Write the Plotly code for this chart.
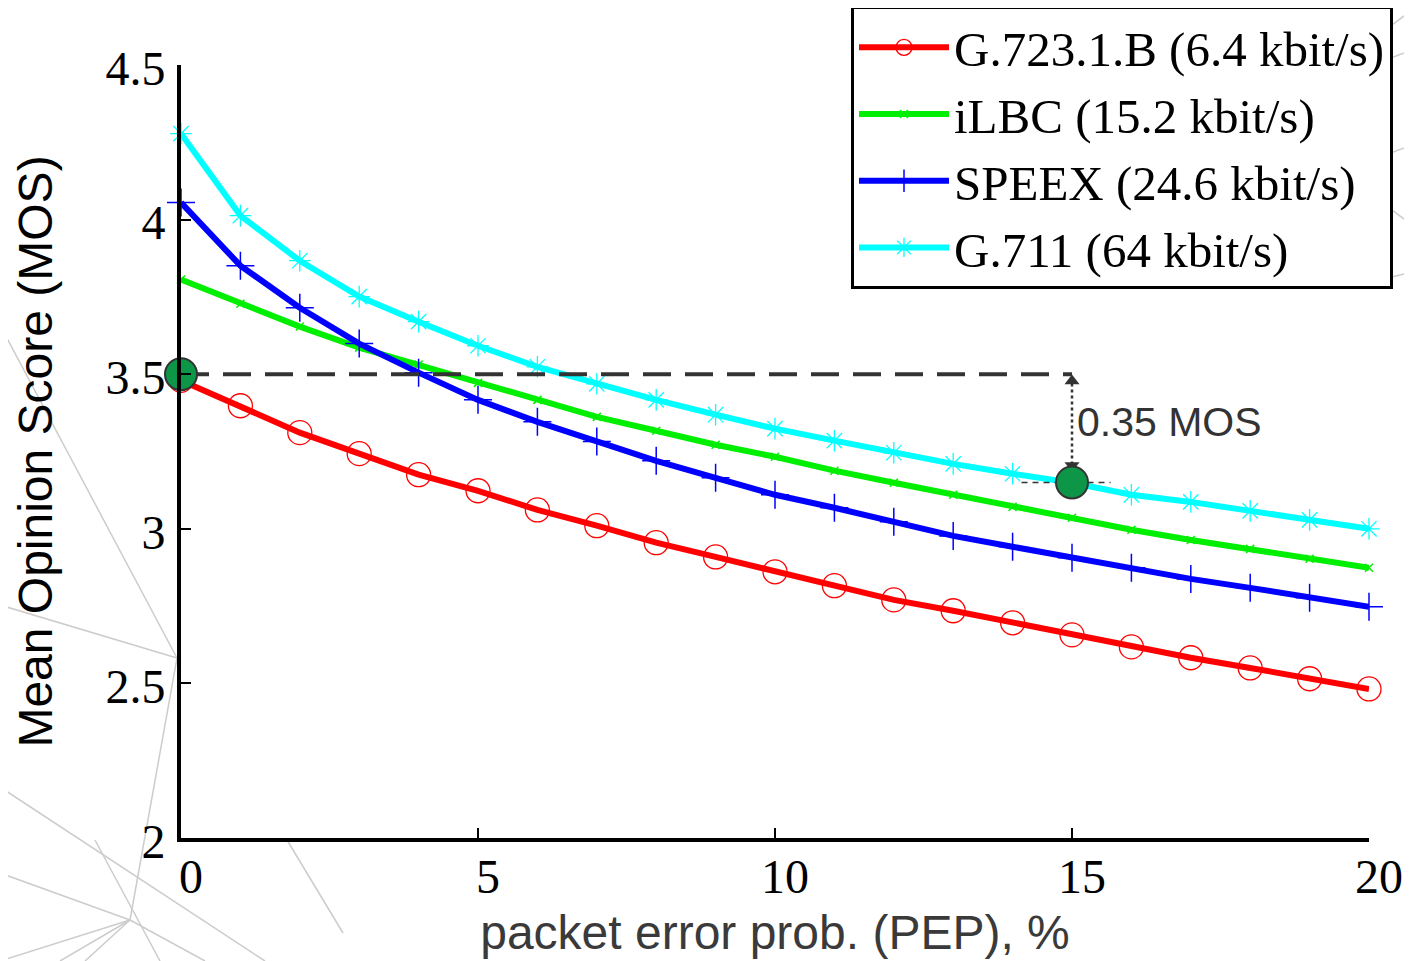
import plotly.graph_objects as go

# ---- data ----
pep = list(range(0, 21))
g7231b = [3.48, 3.398, 3.311, 3.243, 3.175, 3.123, 3.061, 3.010, 2.955, 2.909, 2.861,
          2.816, 2.770, 2.735, 2.696, 2.657, 2.618, 2.583, 2.550, 2.515, 2.482]
ilbc = [3.806, 3.728, 3.654, 3.586, 3.531, 3.472, 3.417, 3.362, 3.317, 3.272, 3.233,
        3.188, 3.149, 3.110, 3.071, 3.036, 2.997, 2.964, 2.935, 2.903, 2.874]
speex = [4.055, 3.851, 3.715, 3.599, 3.505, 3.417, 3.346, 3.282, 3.220, 3.165, 3.110,
         3.068, 3.023, 2.977, 2.942, 2.906, 2.874, 2.838, 2.809, 2.777, 2.748]
g711 = [4.278, 4.013, 3.867, 3.751, 3.670, 3.592, 3.524, 3.469, 3.417, 3.369, 3.324,
        3.285, 3.246, 3.210, 3.178, 3.149, 3.110, 3.087, 3.058, 3.029, 3.000]
names = ["G.723.1.B (6.4 kbit/s)", "iLBC (15.2 kbit/s)", "SPEEX (24.6 kbit/s)", "G.711 (64 kbit/s)"]
x_ticks = [0, 5, 10, 15, 20]
y_ticks = [2, 2.5, 3, 3.5, 4, 4.5]
y_tick_text = ["2", "2.5", "3", "3.5", "4", "4.5"]

# annotation values
ref_level = 3.5
target_pep = 15
target_level = 3.15
delta_text = "0.35 MOS"

OFF = 8  # page body margin
W, H = 1412 - OFF, 961 - OFF
L, T = 181 - OFF, 65 - OFF
PW, PH = 1188, 773
R, B = W - L - PW, H - T - PH

fig = go.Figure()

styles = [
    dict(color="#ff0000", symbol="circle-open", size=24, lw=1.3),
    dict(color="#00ee00", symbol="x-thin", size=8, lw=1.5),
    dict(color="#0000ff", symbol="cross-thin", size=20, lw=1.5),
    dict(color="#00ffff", symbol="asterisk", size=18, lw=1.3),
]
series = [g7231b, ilbc, speex, g711]
for nm, ys, st in zip(names, series, styles):
    fig.add_trace(go.Scatter(
        x=pep, y=ys, name=nm, mode="lines+markers", cliponaxis=False,
        line=dict(color=st["color"], width=6),
        marker=dict(symbol=st["symbol"], size=st["size"], color=st["color"],
                    line=dict(color=st["color"], width=st["lw"])),
    ))

# dashed reference line
fig.add_trace(go.Scatter(x=[0, target_pep], y=[ref_level, ref_level], mode="lines",
                         showlegend=False, cliponaxis=False,
                         line=dict(color="#333333", width=4, dash="28px,14px")))
# short dashed line at target
fig.add_trace(go.Scatter(x=[target_pep - 0.85, target_pep + 0.65], y=[target_level, target_level],
                         mode="lines", showlegend=False,
                         line=dict(color="#333333", width=1.5, dash="6px,5px")))
# dotted vertical
fig.add_trace(go.Scatter(x=[target_pep, target_pep], y=[ref_level - 0.03, target_level + 0.04],
                         mode="lines", showlegend=False,
                         line=dict(color="#333333", width=2.5, dash="dot")))
# arrow heads
fig.add_trace(go.Scatter(x=[target_pep, target_pep], y=[ref_level - 0.022, target_level + 0.055],
                         mode="markers", showlegend=False,
                         marker=dict(symbol=["triangle-up", "triangle-down"], size=13,
                                     color="#333333")))
# green points
fig.add_trace(go.Scatter(x=[0, target_pep], y=[ref_level, target_level], mode="markers",
                         showlegend=False, cliponaxis=False,
                         marker=dict(symbol="circle", size=32, color="#0d9647",
                                     line=dict(color="#333333", width=2))))

fig.add_annotation(x=target_pep, y=(ref_level + target_level) / 2, xref="x", yref="y",
                   text=delta_text, showarrow=False, xanchor="left", yanchor="middle",
                   xshift=3, yshift=6,
                   font=dict(family="Liberation Sans, Arial", size=41, color="#333333"))

# decorative background mesh (screen pixel coordinates -> paper)
def px(X):
    return (X - OFF - L) / PW
def py(Y):
    return (OFF + T + PH - Y) / PH

bg_lines = [
    ((0, 325), (177, 658)), ((0, 605), (177, 658)), ((177, 658), (130, 920)),
    ((0, 787), (265, 961)), ((0, 873), (130, 920)), ((130, 920), (0, 961)),
    ((130, 920), (85, 961)), ((130, 920), (205, 961)), ((130, 920), (60, 961)),
    ((287, 840), (343, 933)), ((95, 840), (160, 961)),
    ((1372, 40), (1412, 10)), ((1372, 65), (1412, 50)), ((1372, 160), (1412, 145)),
    ((1372, 195), (1412, 225)), ((1372, 282), (1412, 272)),
]
for (x0, y0), (x1, y1) in bg_lines:
    fig.add_shape(type="line", xref="paper", yref="paper", x0=px(x0), y0=py(y0),
                  x1=px(x1), y1=py(y1), layer="below",
                  line=dict(color="#cccccc", width=1.5))

serif = "Liberation Serif, Times New Roman, serif"
sans = "Liberation Sans, Arial, sans-serif"

fig.update_layout(
    width=W, height=H,
    margin=dict(l=L, r=R, t=T, b=B, autoexpand=False),
    paper_bgcolor="white", plot_bgcolor="white",
    showlegend=True,
    legend=dict(x=px(851), xanchor="left", y=py(6), yanchor="top",
                bgcolor="white", bordercolor="black", borderwidth=3,
                font=dict(family=serif, size=49, color="black"),
                itemwidth=90, tracegroupgap=0),
    xaxis=dict(range=[0, 20], tickvals=x_ticks, ticktext=[str(v) for v in x_ticks],
               showgrid=False, zeroline=False, showline=True, linecolor="black", linewidth=4,
               ticks="inside", ticklen=10, tickwidth=1.5, tickcolor="black",
               tickfont=dict(family=serif, size=48, color="black"),
               ticklabelshift=10, ticklabelstandoff=-7,
               title=dict(text="packet error prob. (PEP), %", standoff=15,
                          font=dict(family=sans, size=48, color="#3a3a3a"))),
    yaxis=dict(range=[2, 4.5], tickvals=y_ticks, ticktext=y_tick_text,
               showgrid=False, zeroline=False, showline=True, linecolor="black", linewidth=4,
               ticks="inside", ticklen=10, tickwidth=1.5, tickcolor="black",
               tickfont=dict(family=serif, size=48, color="black"),
               ticklabelshift=3, ticklabelstandoff=2,
               title=dict(text="Mean Opinion Score (MOS)", standoff=39,
                          font=dict(family=sans, size=48, color="black"))),
)

fig.write_html("out.html")
